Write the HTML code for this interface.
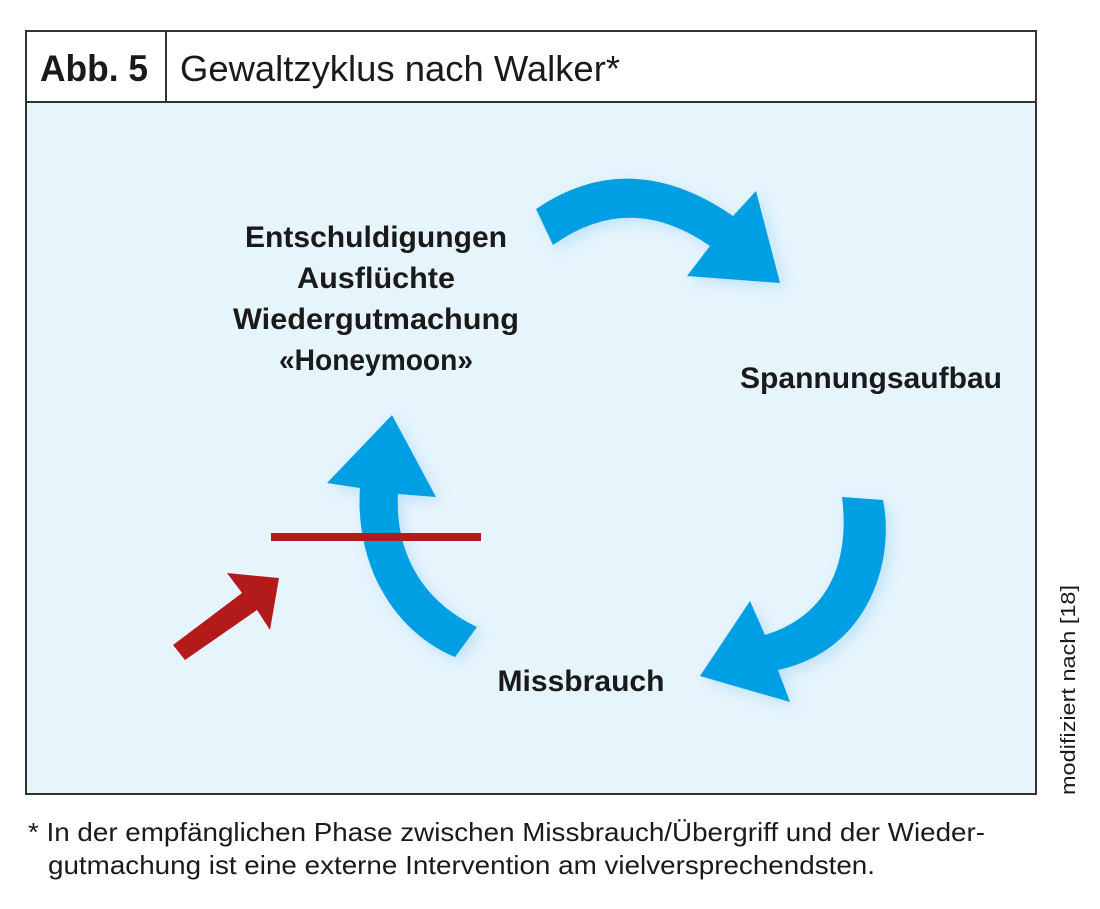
<!DOCTYPE html>
<html><head><meta charset="utf-8"><style>
html,body{margin:0;padding:0;background:#fff;}
svg{display:block;}
text{font-family:"Liberation Sans",sans-serif;fill:#1a1a1a;}
</style></head><body>
<svg width="1100" height="909" viewBox="0 0 1100 909" xmlns="http://www.w3.org/2000/svg">
<defs>
<filter id="sh" x="-20%" y="-20%" width="140%" height="140%">
<feGaussianBlur in="SourceGraphic" stdDeviation="7"/>
</filter>
</defs>
<rect x="26" y="31" width="1010" height="763" fill="#fff" stroke="#333" stroke-width="2"/>
<rect x="27" y="102" width="1008" height="691" fill="#e6f4fc"/>
<line x1="26" y1="102" x2="1036" y2="102" stroke="#333" stroke-width="2"/>
<line x1="166" y1="31" x2="166" y2="102" stroke="#333" stroke-width="2"/>
<text x="40" y="81" font-size="37" font-weight="bold" textLength="108" lengthAdjust="spacingAndGlyphs">Abb. 5</text>
<text x="180" y="81" font-size="36" textLength="440" lengthAdjust="spacingAndGlyphs" fill="#222">Gewaltzyklus nach Walker*</text>

<g fill="#bfe3f7" filter="url(#sh)" transform="translate(5,5)">
<path d="M536,209 Q630,145 733,216 L756,191 L780,283 L687,276 L710,246 Q630,190 553,245 Z"/>
<path d="M842,497 L883,500 C895,560 870,650 778,670 L790,702 L700,676 L750,601 L765,635 C830,615 850,560 842,497 Z"/>
<path d="M477,627 C420,600 395,550 398,494 L436,497 L392,415 L327,483 L360,488 C355,560 390,630 455,657 Z"/>
</g>
<g fill="#009fe3">
<path d="M536,209 Q630,145 733,216 L756,191 L780,283 L687,276 L710,246 Q630,190 553,245 Z"/>
<path d="M842,497 L883,500 C895,560 870,650 778,670 L790,702 L700,676 L750,601 L765,635 C830,615 850,560 842,497 Z"/>
<path d="M477,627 C420,600 395,550 398,494 L436,497 L392,415 L327,483 L360,488 C355,560 390,630 455,657 Z"/>
</g>
<rect x="271" y="533" width="210" height="8" fill="#b31b1b"/>
<polygon points="173,645 242,593 227,573 279,578 270,630 257,610 185,660" fill="#b31b1b"/>

<g font-weight="bold" font-size="30" text-anchor="middle">
<text x="376" y="247" textLength="262" lengthAdjust="spacingAndGlyphs">Entschuldigungen</text>
<text x="376" y="288" textLength="158" lengthAdjust="spacingAndGlyphs">Ausflüchte</text>
<text x="376" y="329" textLength="286" lengthAdjust="spacingAndGlyphs">Wiedergutmachung</text>
<text x="376" y="370" textLength="194" lengthAdjust="spacingAndGlyphs">«Honeymoon»</text>
<text x="871" y="388" textLength="262" lengthAdjust="spacingAndGlyphs">Spannungsaufbau</text>
<text x="581" y="691" textLength="167" lengthAdjust="spacingAndGlyphs">Missbrauch</text>
</g>
<text x="28" y="841" font-size="26" textLength="957" lengthAdjust="spacingAndGlyphs" fill="#222">* In der empfänglichen Phase zwischen Missbrauch/Übergriff und der Wieder-</text>
<text x="48" y="874" font-size="26" textLength="827" lengthAdjust="spacingAndGlyphs" fill="#222">gutmachung ist eine externe Intervention am vielversprechendsten.</text>
<text transform="translate(1075,795) rotate(-90)" font-size="20" textLength="210" lengthAdjust="spacingAndGlyphs" fill="#333">modifiziert nach [18]</text>
</svg>
</body></html>
